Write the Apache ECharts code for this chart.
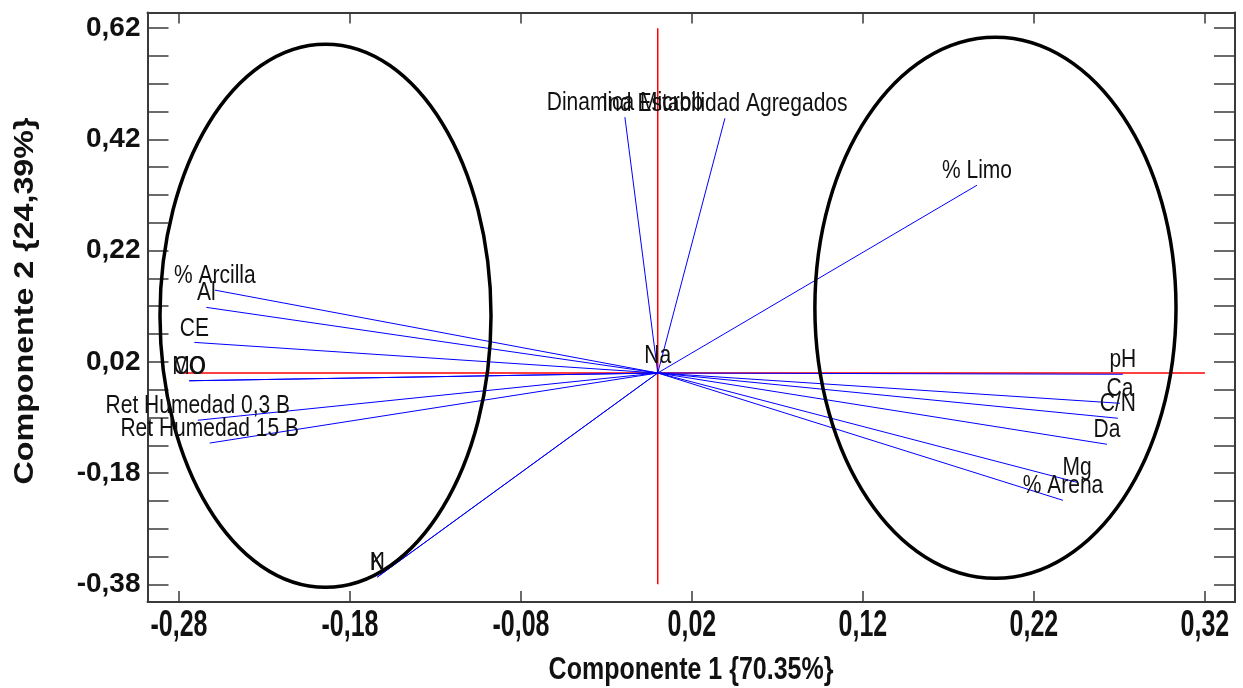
<!DOCTYPE html>
<html><head><meta charset="utf-8">
<script src="https://cdn.jsdelivr.net/npm/echarts@6/dist/echarts.min.js"></script>
<style>html,body{margin:0;padding:0;background:#fff}#c{width:1243px;height:688px}</style>
</head><body><div id="c"></div>
<script>
// ---- data ----
const varNames = ['% Arcilla','Al','CE','MO','CO','Ret Humedad 0,3 B','Ret Humedad 15 B','K','N',
  'Dinamica Microb','Ind Estabilidad Agregados','Na','% Limo','pH','Ca','C/N','Da','Mg','% Arena'];
const comp1 = [-0.259,-0.264,-0.271,-0.274,-0.274,-0.269,-0.262,-0.164,-0.164,
  -0.0192,0.0393,0.0,0.1867,0.272,0.2703,0.2691,0.2627,0.2452,0.237];
const comp2 = [0.149,0.118,0.055,-0.014,-0.014,-0.085,-0.126,-0.367,-0.367,
  0.460,0.458,0.005,0.3376,-0.0023,-0.0545,-0.0814,-0.1282,-0.1966,-0.229];
const xTickValues = [-0.28,-0.18,-0.08,0.02,0.12,0.22,0.32];
const yLabelValues = [-0.38,-0.18,0.02,0.22,0.42,0.62];
const yTickValues = [-0.38,-0.33,-0.28,-0.23,-0.18,-0.13,-0.08,-0.03,0.02,0.07,0.12,0.17,0.22,0.27,0.32,0.37,0.42,0.47,0.52,0.57,0.62];
const refLineH = [[-0.28,0],[0.32,0]];
const refLineV = [[0,-0.38],[0,0.62]];
const ellipseCx = [-0.1943, 0.1975];
const ellipseCy = [0.1029, 0.1173];
const ellipseRx = [0.0968, 0.1056];
const ellipseRy = [0.4883, 0.4865];
const xTitle = 'Componente 1 {70.35%}';
const yTitle = 'Componente 2 {24,39%}';

const X_MIN = -0.2984, X_MAX = 0.3376, Y_MIN = -0.4118, Y_MAX = 0.6482;

const vecData = varNames.map((n,i)=>[comp1[i], comp2[i]]);
const ellData = ellipseCx.map((c,i)=>[c, ellipseCy[i], ellipseRx[i], ellipseRy[i]]);
const xLabData = xTickValues.map(v=>[v, Y_MIN]);
const fmt = v => v.toFixed(2).replace('.', ',');
const AX = '#3a3a3a';

function xAx(pos){
  return {type:'value', min:X_MIN, max:X_MAX, position:pos,
    axisLine:{show:true,onZero:false,lineStyle:{color:AX,width:2}},
    axisTick:{show:true,inside:true,length:11,customValues:xTickValues,lineStyle:{color:AX,width:1.5}},
    axisLabel:{show:false},
    splitLine:{show:false}};
}
function yAx(pos, showLabel){
  return {type:'value', min:Y_MIN, max:Y_MAX, position:pos,
    axisLine:{show:true,onZero:false,lineStyle:{color:AX,width:2}},
    axisTick:{show:true,inside:true,length:21,customValues:yTickValues,lineStyle:{color:AX,width:1.5}},
    axisLabel:{show:showLabel,customValues:yLabelValues,formatter:fmt,
      fontFamily:'"Liberation Sans",Arial,sans-serif',fontWeight:'bold',fontSize:28,color:'#111',margin:7},
    splitLine:{show:false}};
}

const chart = echarts.init(document.getElementById('c'), null, {renderer:'canvas'});
chart.setOption({
  animation:false,
  backgroundColor:'#fff',
  grid:{left:147.5,top:12.5,right:8,bottom:86,containLabel:false},
  xAxis:[xAx('bottom'), xAx('top')],
  yAxis:[yAx('left',true), yAx('right',false)],
  graphic:[
    {type:'text', x:691, y:670, scaleY:1.25, z:100,
     style:{text:xTitle, font:'bold 25px "Liberation Sans",Arial,sans-serif', textAlign:'center', textVerticalAlign:'middle', fill:'#111'}},
    {type:'text', x:25, y:301, rotation:Math.PI/2, scaleX:1.15, z:100,
     style:{text:yTitle, font:'bold 28px "Liberation Sans",Arial,sans-serif', textAlign:'center', textVerticalAlign:'middle', fill:'#111'}}
  ],
  series:[
    {type:'line', data:refLineH, symbol:'none', lineStyle:{color:'#ff0000',width:1.5}, z:1, silent:true},
    {type:'line', data:refLineV, symbol:'none', lineStyle:{color:'#ff0000',width:1.5}, z:1, silent:true},
    {type:'custom', z:2, data:vecData, clip:false,
     renderItem:(params, api)=>{
       const o = api.coord([0,0]);
       const e = api.coord([api.value(0), api.value(1)]);
       return {type:'line', shape:{x1:o[0],y1:o[1],x2:e[0],y2:e[1]}, style:{stroke:'#0000ff',lineWidth:1}};
     }},
    {type:'custom', z:3, data:ellData, clip:false,
     renderItem:(params, api)=>{
       const c = api.coord([api.value(0), api.value(1)]);
       const r = api.coord([api.value(0)+api.value(2), api.value(1)+api.value(3)]);
       return {type:'ellipse', shape:{cx:c[0],cy:c[1],rx:Math.abs(r[0]-c[0]),ry:Math.abs(c[1]-r[1])},
         style:{fill:'none',stroke:'#000',lineWidth:3.5}};
     }},
    {type:'custom', z:4, data:vecData, clip:false,
     renderItem:(params, api)=>{
       const e = api.coord([api.value(0), api.value(1)]);
       return {type:'text', x:e[0], y:e[1]-1, scaleY:1.25,
         style:{text:varNames[params.dataIndex], font:'21px "Liberation Sans",Arial,sans-serif',
           textAlign:'center', textVerticalAlign:'bottom', fill:'#111'}};
     }},
    {type:'custom', z:5, data:xLabData, clip:false, silent:true,
     renderItem:(params, api)=>{
       const p = api.coord([api.value(0), api.value(1)]);
       return {type:'text', x:p[0], y:p[1]+6, scaleY:1.45,
         style:{text:fmt(xTickValues[params.dataIndex]), font:'bold 25px "Liberation Sans",Arial,sans-serif',
           textAlign:'center', textVerticalAlign:'top', fill:'#111'}};
     }}
  ]
});
</script></body></html>
